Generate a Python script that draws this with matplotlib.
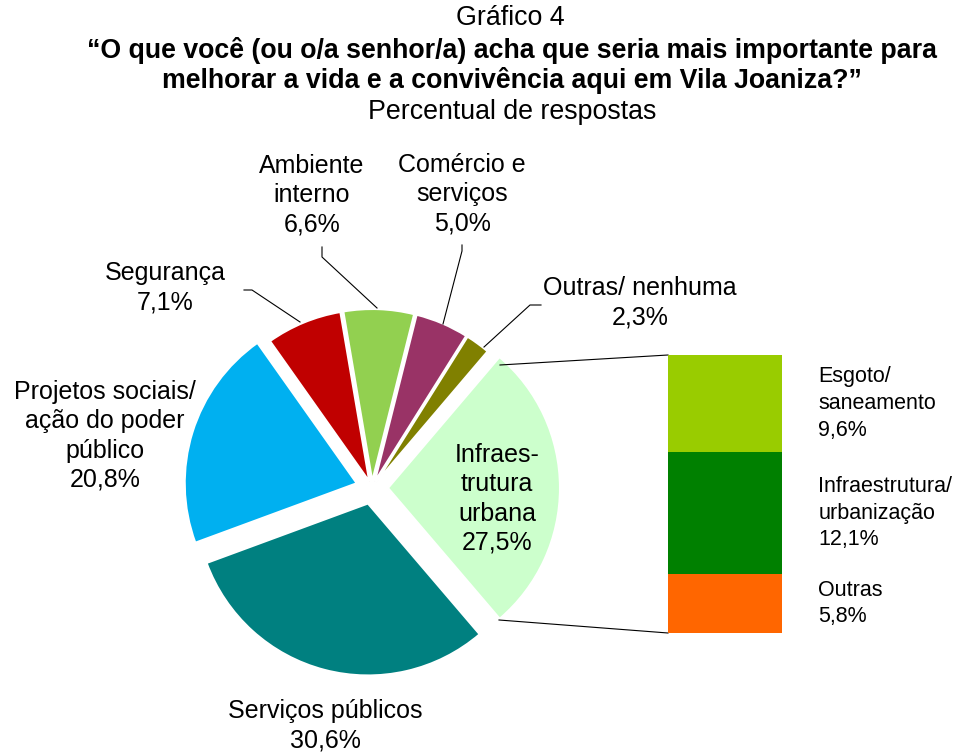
import matplotlib
matplotlib.use('Agg')
import matplotlib.pyplot as plt

plt.rcParams['font.family'] = ['Liberation Sans', 'DejaVu Sans']

# pie data (counterclockwise from the exploded right slice)
pie_labels = ['Infraes-\ntrutura\nurbana', 'Outras/ nenhuma', 'Comércio e\nserviços',
              'Ambiente\ninterno', 'Segurança', 'Projetos sociais/\nação do poder\npúblico',
              'Serviços públicos']
pie_values = [27.5, 2.3, 5.0, 6.6, 7.1, 20.8, 30.6]
pie_colors = ['#CCFFCC', '#808000', '#993366', '#92D050', '#C00000', '#00B0F0', '#008080']

# breakdown of "Infraestrutura urbana" (bottom to top)
bar_labels = ['Outras', 'Infraestrutura/\nurbanização', 'Esgoto/\nsaneamento']
bar_values = [5.8, 12.1, 9.6]
bar_colors = ['#FF6600', '#008000', '#99CC00']

W, H = 959, 753


def P(x, y):
    # pixel coords (y down) -> axes data coords (y up)
    return x, H - y


def pct(v):
    return f'{v:.1f}%'.replace('.', ',')


fig = plt.figure(figsize=(W / 100, H / 100), dpi=100)
ax = fig.add_axes([0, 0, 1, 1])

start = -pie_values[0] / 100 * 360 / 2
ax.pie(pie_values, colors=pie_colors, startangle=start, counterclock=True,
       explode=[16, 7, 7, 7, 7, 16, 16], radius=172, center=P(372, 488),
       wedgeprops=dict(edgecolor='white', linewidth=1.5))
ax.set_xlim(0, W)
ax.set_ylim(0, H)
ax.set_aspect('equal')
ax.axis('off')

fs = 18
tfs = 19.3
# titles
ax.text(*P(510, 18), 'Gráfico 4', ha='center', va='center', fontsize=tfs)
ax.text(*P(512, 50), '“O que você (ou o/a senhor/a) acha que seria mais importante para',
        ha='center', va='center', fontsize=tfs, fontweight='bold')
ax.text(*P(512, 80), 'melhorar a vida e a convivência aqui em Vila Joaniza?”',
        ha='center', va='center', fontsize=tfs, fontweight='bold')
ax.text(*P(512, 112), 'Percentual de respostas', ha='center', va='center', fontsize=tfs)

# pie labels: (x, y) centre of text block
label_pos = [(497, 499), (640, 303), (462, 194), (312, 195), (165, 288), (105, 436), (325, 726)]
for lab, v, (x, y) in zip(pie_labels, pie_values, label_pos):
    ax.text(*P(x, y), lab + '\n' + pct(v), ha='center', va='center',
            fontsize=fs, linespacing=1.27)

# leader lines
leaders = [
    [(300, 322), (252, 290), (244, 290)],   # Segurança
    [(377, 308), (322, 257), (322, 247)],   # Ambiente
    [(443, 324), (462, 251), (462, 245)],   # Comércio
    [(484, 347), (530, 305), (541, 305)],   # Outras/ nenhuma
]
for pts in leaders:
    xs, ys = zip(*[P(x, y) for x, y in pts])
    ax.plot(xs, ys, color='black', lw=0.8)

# connectors from pie to bar
for (x0, y0), (x1, y1) in [((500, 365), (668, 355)), ((499, 620), (668, 633))]:
    xs, ys = zip(P(x0, y0), P(x1, y1))
    ax.plot(xs, ys, color='black', lw=0.8)

# stacked bar
ax2 = fig.add_axes([668 / W, (H - 633) / H, 114 / W, 278 / H])
bottom = 0
for lab, v, c in zip(bar_labels, bar_values, bar_colors):
    ax2.bar(0, v, width=1, bottom=bottom, color=c, edgecolor='none')
    ax2.text(0.82, bottom + v / 2, lab + '\n' + pct(v), ha='left', va='center',
             fontsize=15.5, linespacing=1.35, clip_on=False)
    bottom += v
ax2.set_xlim(-0.5, 0.5)
ax2.set_ylim(0, bottom)
ax2.axis('off')

fig.savefig('out.png', dpi=100)
